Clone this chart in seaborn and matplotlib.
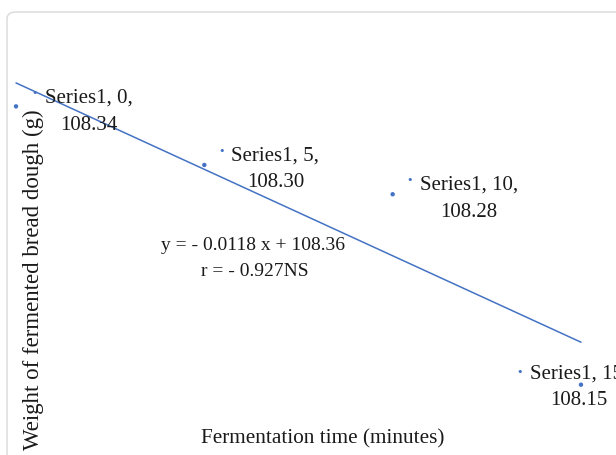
import matplotlib
matplotlib.use("Agg")
import matplotlib.pyplot as plt
from matplotlib.patches import FancyBboxPatch
import seaborn as sns
import pandas as pd

# Fermentation data
time_min = [0, 5, 10, 15]
weight_g = [108.34, 108.30, 108.28, 108.15]
series_name = "Series1"
equation_text = "y = - 0.0118 x + 108.36"
r_text = "r = - 0.927NS"

df = pd.DataFrame({"time": time_min, "weight": weight_g})

sns.set_theme(style="white")
plt.rcParams["font.family"] = ["Liberation Serif", "DejaVu Serif"]

blue = "#4472C4"
ink = "#1a1a1a"
PX = 0.72  # points per pixel at 100 dpi

fig = plt.figure(figsize=(6.16, 4.55), dpi=100)
fig.patch.set_facecolor("white")

# Rounded chart-area frame
frame = FancyBboxPatch((7 / 616, -0.2), 1.2, 1.2 - 12 / 455,
                       boxstyle="round,pad=0,rounding_size=0.015",
                       transform=fig.transFigure, fill=False,
                       edgecolor="#d9d9d9", linewidth=1.0, zorder=0)
fig.patches.append(frame)

ax = fig.add_axes([0, 0, 1, 1])
ax.set_facecolor("none")
ax.set_xlim(-0.425, 15.93)
ax.set_ylim(108.102, 108.4126)
ax.axis("off")

# Linear trend over the measured range
sns.regplot(data=df, x="time", y="weight", ax=ax, ci=None, scatter=False,
            truncate=True, line_kws=dict(color=blue, linewidth=1.1))

sns.scatterplot(data=df, x="time", y="weight", ax=ax, color=blue, s=10,
                edgecolor="none", legend=False, zorder=3)

# Data labels with key markers (offsets in pixels from each point)
offsets = [(19, -13), (17, -14), (17, -14), (-61, -13)]
text_shift = [0, 0, 0, -3]
for (t, w), (dx, dy), sh in zip(zip(time_min, weight_g), offsets, text_shift):
    ax.annotate("\u2022", xy=(t, w), xytext=(dx * PX, -dy * PX),
                textcoords="offset points", ha="center", va="center",
                color=blue, fontsize=8, family="DejaVu Sans")
    ax.annotate(f"{series_name}, {t},\n{w:.2f}", xy=(t, w),
                xytext=((dx + 10) * PX, (-dy - 18.5 - sh) * PX),
                textcoords="offset points", ha="left", va="center",
                multialignment="center", fontsize=15, color=ink,
                linespacing=1.55)

# Trendline equation
fig.text(253 / 616, 1 - 245 / 455, equation_text, ha="center", va="center",
         fontsize=14, color=ink)
fig.text(255 / 616, 1 - 272 / 455, r_text, ha="center", va="center",
         fontsize=14, color=ink)

# Axis titles
fig.text(323 / 616, 1 - 439 / 455, "Fermentation time (minutes)", ha="center",
         va="center", fontsize=15.3, color=ink)
fig.text(33 / 616, 1 - 280 / 455, "Weight of fermented bread dough (g)",
         ha="center", va="center", rotation=90, fontsize=16.5, color=ink)

fig.savefig("out.png", dpi=100)
